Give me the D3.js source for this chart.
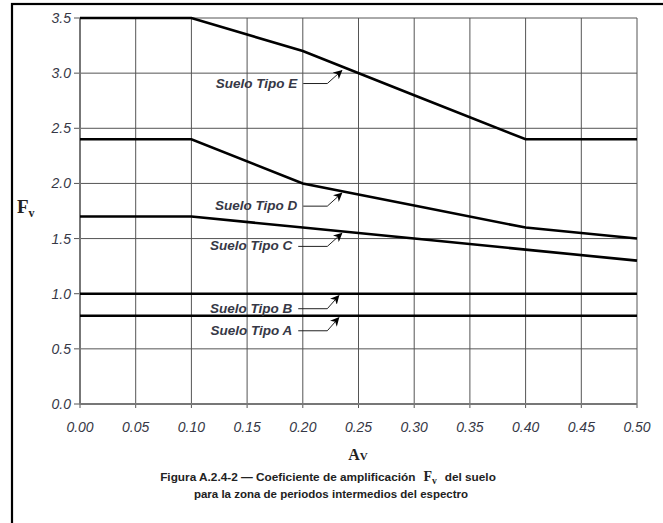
<!DOCTYPE html>
<html>
<head>
<meta charset="utf-8">
<script src="https://cdn.jsdelivr.net/npm/d3@7"></script>
<style>
  body { margin: 0; background: #fff; }
  svg { display: block; }
</style>
</head>
<body>
<div id="chart"></div>
<script>
// chart values
const avTicks = [0, 0.05, 0.10, 0.15, 0.20, 0.25, 0.30, 0.35, 0.40, 0.45, 0.50];
const fvTicks = [0, 0.5, 1.0, 1.5, 2.0, 2.5, 3.0, 3.5];
const av = [0, 0.1, 0.2, 0.3, 0.4, 0.5];
const sueloE = [3.5, 3.5, 3.2, 2.8, 2.4, 2.4];
const sueloD = [2.4, 2.4, 2.0, 1.8, 1.6, 1.5];
const sueloC = [1.7, 1.7, 1.6, 1.5, 1.4, 1.3];
const sueloB = [1.0, 1.0, 1.0, 1.0, 1.0, 1.0];
const sueloA = [0.8, 0.8, 0.8, 0.8, 0.8, 0.8];
const seriesNames = ["Suelo Tipo E", "Suelo Tipo D", "Suelo Tipo C", "Suelo Tipo B", "Suelo Tipo A"];

const series = [sueloE, sueloD, sueloC, sueloB, sueloA].map((vals, i) => ({
  name: seriesNames[i],
  points: av.map((a, j) => [a, vals[j]])
}));

const width = 663;
const height = 523;

const svg = d3.select("#chart")
  .append("svg")
  .attr("width", width)
  .attr("height", height);

// outer frame (runs off the right and bottom edges)
svg.append("rect")
  .attr("x", 12).attr("y", 4)
  .attr("width", 700).attr("height", 600)
  .attr("fill", "none")
  .attr("stroke", "#000")
  .attr("stroke-width", 2.2);

const x = d3.scaleLinear().domain([0, 0.5]).range([80, 637]);
const y = d3.scaleLinear().domain([0, 3.5]).range([404, 18]);

const textColor = "#363846";

// grid
svg.append("g")
  .attr("stroke", "#555")
  .attr("stroke-width", 1)
  .selectAll("line.v")
  .data(avTicks)
  .join("line")
    .attr("x1", d => x(d)).attr("x2", d => x(d))
    .attr("y1", y(3.5)).attr("y2", y(0) + 4);

svg.append("g")
  .attr("stroke", "#555")
  .attr("stroke-width", 1)
  .selectAll("line.h")
  .data(fvTicks)
  .join("line")
    .attr("x1", x(0) - 6).attr("x2", x(0.5))
    .attr("y1", d => y(d)).attr("y2", d => y(d));

// axis lines
svg.append("line")
  .attr("x1", x(0)).attr("x2", x(0))
  .attr("y1", y(3.5)).attr("y2", y(0))
  .attr("stroke", "#777").attr("stroke-width", 2);
svg.append("line")
  .attr("x1", x(0)).attr("x2", x(0.5))
  .attr("y1", y(0)).attr("y2", y(0))
  .attr("stroke", "#777").attr("stroke-width", 2);

// tick labels
svg.append("g")
  .selectAll("text")
  .data(fvTicks)
  .join("text")
    .attr("x", x(0) - 9)
    .attr("y", d => y(d) + 5)
    .attr("text-anchor", "end")
    .attr("font-family", "Liberation Sans, Arial, sans-serif")
    .attr("font-style", "italic")
    .attr("font-size", 14)
    .attr("fill", textColor)
    .text(d => d3.format(".1f")(d));

svg.append("g")
  .selectAll("text")
  .data(avTicks)
  .join("text")
    .attr("x", d => x(d))
    .attr("y", 432)
    .attr("text-anchor", "middle")
    .attr("font-family", "Liberation Sans, Arial, sans-serif")
    .attr("font-style", "italic")
    .attr("font-size", 14)
    .attr("fill", textColor)
    .text(d => d3.format(".2f")(d));

// curves
const line = d3.line().x(d => x(d[0])).y(d => y(d[1]));
svg.append("g")
  .selectAll("path")
  .data(series)
  .join("path")
    .attr("d", d => line(d.points))
    .attr("fill", "none")
    .attr("stroke", "#000")
    .attr("stroke-width", 2.6);

// annotations
svg.append("defs").append("marker")
  .attr("id", "arrow")
  .attr("viewBox", "0 0 10 10")
  .attr("refX", 9).attr("refY", 5)
  .attr("markerWidth", 9).attr("markerHeight", 9)
  .attr("markerUnits", "userSpaceOnUse")
  .attr("orient", "auto")
  .append("path")
    .attr("d", "M0,0 L10,5 L0,10 L3,5 Z")
    .attr("fill", "#000");

const tipAv = 0.235;
const ann = svg.append("g");
series.forEach((s, i) => {
  const v = d3.scaleLinear().domain(av).range(s.points.map(p => p[1]))(tipAv);
  const tx = x(tipAv) + (i >= 3 ? -3 : 0);
  const ty = y(v) + (i === 0 ? 4 : 2);
  const textEnd = x(0.195) - (i >= 2 ? 5 : 0);
  ann.append("text")
    .attr("x", textEnd)
    .attr("y", ty + 17)
    .attr("text-anchor", "end")
    .attr("font-family", "Liberation Sans, Arial, sans-serif")
    .attr("font-style", "italic")
    .attr("font-weight", "bold")
    .attr("font-size", 13.5)
    .attr("fill", textColor)
    .text(s.name);
  ann.append("polyline")
    .attr("points", [[textEnd + 6, ty + 13], [x(0.222), ty + 13], [tx, ty]].map(p => p.join(",")).join(" "))
    .attr("fill", "none")
    .attr("stroke", "#222")
    .attr("stroke-width", 1)
    .attr("marker-end", "url(#arrow)");
});

// axis titles
const fv = svg.append("text")
  .attr("x", 17).attr("y", 213)
  .attr("font-family", "Liberation Serif, Times New Roman, serif")
  .attr("font-weight", "bold")
  .attr("font-size", 19)
  .attr("fill", "#222");
fv.append("tspan").text("F");
fv.append("tspan").attr("dy", 4).attr("font-size", 12).text("v");

const avLabel = svg.append("text")
  .attr("x", 358).attr("y", 460)
  .attr("text-anchor", "middle")
  .attr("font-family", "Liberation Serif, Times New Roman, serif")
  .attr("font-weight", "bold")
  .attr("font-size", 16)
  .attr("fill", "#222");
avLabel.append("tspan").text("A");
avLabel.append("tspan").attr("font-size", 11).text("V");

// caption
const cap1 = svg.append("text")
  .attr("x", 328).attr("y", 481)
  .attr("text-anchor", "middle")
  .attr("font-family", "Liberation Sans, Arial, sans-serif")
  .attr("font-weight", "bold")
  .attr("font-size", 11.8)
  .attr("fill", "#222");
cap1.append("tspan").text("Figura A.2.4-2 \u2014 Coeficiente de amplificaci\u00f3n");
cap1.append("tspan")
  .attr("dx", 8)
  .attr("font-family", "Liberation Serif, Times New Roman, serif")
  .attr("font-size", 14).text("F");
cap1.append("tspan")
  .attr("font-family", "Liberation Serif, Times New Roman, serif")
  .attr("font-size", 9.5).attr("dy", 2.5).text("v");
cap1.append("tspan").attr("dx", 8).attr("dy", -2.5).text("del suelo");

svg.append("text")
  .attr("x", 331).attr("y", 498)
  .attr("text-anchor", "middle")
  .attr("font-family", "Liberation Sans, Arial, sans-serif")
  .attr("font-weight", "bold")
  .attr("font-size", 11.5)
  .attr("fill", "#222")
  .text("para la zona de periodos intermedios del espectro");
</script>
</body>
</html>
